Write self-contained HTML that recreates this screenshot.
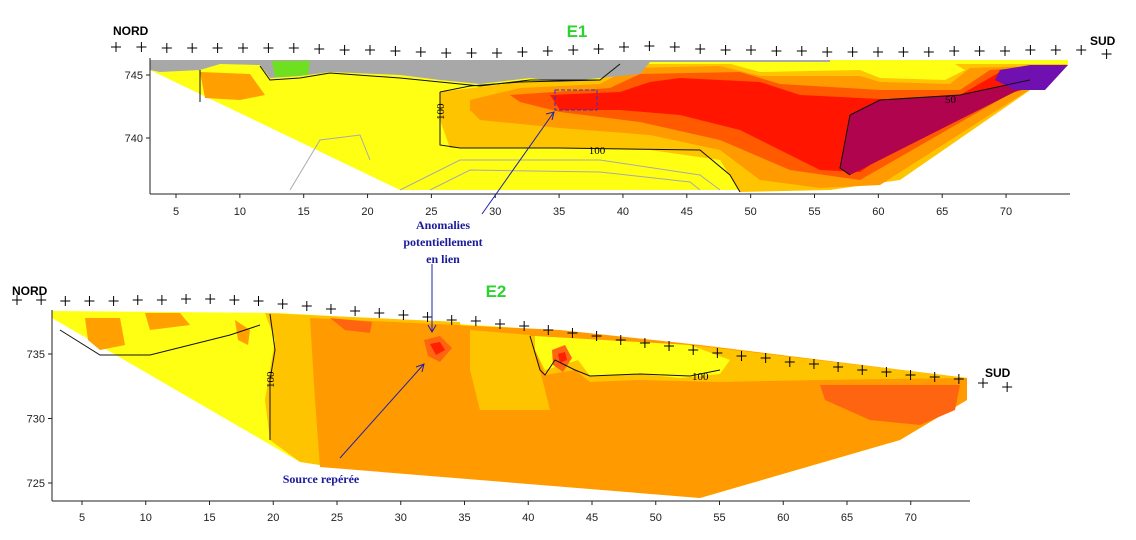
<!DOCTYPE html>
<html><head><meta charset="utf-8"><style>
html,body{margin:0;padding:0;background:#fff;}
svg{display:block;font-family:"Liberation Sans",sans-serif;}
.tk{font-family:"Liberation Sans",sans-serif;font-size:11px;fill:#222;}
.ann{font-family:"Liberation Serif",serif;font-weight:bold;font-size:12px;fill:#1a1a9a;}
</style></head><body>
<svg id="chart" width="1136" height="540" viewBox="0 0 1136 540" xmlns="http://www.w3.org/2000/svg">
<!-- TOP SECTION E1 -->
<g>
  <polygon fill="#ffff14" points="150,60 1068,60 1068,65 830,190 400,190 150,70"/>
  <polygon fill="#ffc400" points="440,92 520,82 600,80 620,64 1068,64 900,180 830,190 740,192 720,160 650,150 520,148 450,148 440,120"/>
  <polygon fill="#ffff14" points="720,61 950,61 965,70 945,80 880,78 860,70 760,72"/>
  <polygon fill="#ff9a00" points="470,100 520,88 600,84 630,68 720,66 760,76 860,76 880,82 950,84 970,68 1068,65 880,185 820,188 760,180 720,150 650,135 560,128 480,120 470,110"/>
  <polygon fill="#ff5a00" points="510,95 610,88 640,74 740,72 780,84 880,90 960,90 990,70 1060,65 860,180 790,170 720,140 640,122 560,112 520,102"/>
  <polygon fill="#ff1500" points="550,95 620,92 650,82 680,78 760,82 800,95 900,100 960,95 1000,72 1040,70 1040,85 950,110 860,172 820,170 780,150 740,130 680,115 620,110 560,110"/>
  <polygon fill="#b0044e" points="850,115 880,100 960,95 1030,80 1068,65 850,175 840,168"/>
  <polygon fill="#7010b0" points="1030,65 1068,65 1045,90 1015,90 995,80 1000,70"/>
  <polygon fill="#a8a8a8" points="150,60 830,60 830,62 650,62 640,74 600,78 560,82 530,78 480,84 440,80 400,75 330,72 300,76 270,78 260,65 220,64 200,70 160,72 150,70"/>
  <polygon fill="#6ee020" points="272,61 310,61 308,75 275,77"/>
  <polygon fill="#ffa000" points="200,72 250,74 265,95 240,100 205,98"/>
  <g fill="none" stroke="#aaa" stroke-width="1">
    <polyline points="290,190 320,140 360,135 370,160"/>
    <polyline points="400,190 460,160 600,160 700,175 720,190"/>
    <polyline points="430,190 470,170 600,172 690,182 700,190"/>
  </g>
  <g fill="none" stroke="#111" stroke-width="1">
    <polyline points="440,92 470,86 520,82 600,80 620,64"/>
    <polyline points="440,92 440,145 460,148 560,148 700,150 730,175 740,192"/>
    <polyline points="850,115 880,100 960,95 1030,80"/>
    <polyline points="850,115 840,168 850,175"/>
    <polyline points="200,70 200,102"/>
    <polyline points="260,66 270,80 300,78 330,73 400,78 440,82 480,86 530,80 600,80"/>
  </g>
  <text x="597" y="154" font-size="11" text-anchor="middle" font-family="Liberation Serif,serif">100</text>
  <text font-size="11" font-family="Liberation Serif,serif" transform="translate(444,120) rotate(-90)">100</text>
  <text x="945" y="103" font-size="11" font-family="Liberation Serif,serif">50</text>
  <rect x="555" y="90" width="42" height="20" fill="none" stroke="#3333cc" stroke-dasharray="4,2"/>
</g>
<!-- BOTTOM SECTION E2 -->
<g>
  <polygon fill="#ffff14" points="52,311 280,313 400,320 550,330 700,345 967,378 967,400 900,440 700,498 320,465 300,462 52,318"/>
  <polygon fill="#ffc400" points="265,313 460,322 470,460 320,465 300,462 270,440 265,400 275,340"/>
  <polygon fill="#ff9a00" points="310,318 560,330 700,345 967,378 967,400 900,440 700,498 320,467 315,400"/>
  <polygon fill="#ffc400" points="470,330 530,335 540,370 550,410 480,410 470,370"/>
  <polygon fill="#ffc400" points="530,336 700,346 967,378 820,380 720,382 640,380 590,382 575,370 545,375"/>
  <polygon fill="#ffff14" points="535,336 690,345 730,360 720,374 680,378 640,374 590,376 578,360 545,370 535,350"/>
  <polygon fill="#ff6510" points="820,385 960,385 955,410 920,425 870,420 825,400"/>
  <polygon fill="#ff6510" points="330,318 372,322 370,333 345,330"/>
  <polygon fill="#ffa000" points="85,318 120,318 125,345 100,350 88,340"/>
  <polygon fill="#ffa000" points="145,313 180,313 190,325 150,330"/>
  <polygon fill="#ffa000" points="235,320 250,330 248,345 238,340"/>
  <polygon fill="#ff6510" points="424,340 440,336 452,348 440,362 428,356"/>
  <polygon fill="#ff2000" points="430,344 440,342 445,350 436,355"/>
  <polygon fill="#ff6510" points="552,350 565,345 572,358 563,372 553,365"/>
  <polygon fill="#ff2000" points="558,354 565,352 567,360 560,363"/>
  <g fill="none" stroke="#111" stroke-width="1">
    <polyline points="270,314 275,350 270,380 270,440"/>
    <polyline points="60,330 100,355 150,355 190,345 230,335 260,325"/>
    <polyline points="530,336 540,370 545,375 555,360 575,370 590,376 640,374 690,376 720,370"/>
  </g>
  <text font-size="11" font-family="Liberation Serif,serif" transform="translate(274,388) rotate(-90)">100</text>
  <text x="692" y="380" font-size="11" font-family="Liberation Serif,serif">100</text>
</g>
<g id="axes"></g>
<g id="markers"></g>
<!-- Annotations -->
<g stroke="#2222aa" stroke-width="1" fill="none">
  <line x1="482" y1="214" x2="554" y2="112"/>
  <polyline points="546,114 554,112 552,120"/>
  <line x1="432" y1="264" x2="432" y2="332"/>
  <polyline points="428,325 432,332 436,325"/>
  <line x1="340" y1="458" x2="424" y2="364"/>
  <polyline points="416,367 424,364 422,372"/>
</g>
<text class="ann" x="443" y="229" text-anchor="middle">Anomalies</text>
<text class="ann" x="443" y="246" text-anchor="middle">potentiellement</text>
<text class="ann" x="443" y="263" text-anchor="middle">en lien</text>
<text class="ann" x="321" y="483" text-anchor="middle">Source repérée</text>
<text x="577" y="37" font-size="17" font-weight="bold" fill="#2ed22e" text-anchor="middle">E1</text>
<text x="496" y="297" font-size="17" font-weight="bold" fill="#2ed22e" text-anchor="middle">E2</text>
<text x="113" y="35" font-size="12" font-weight="bold">NORD</text>
<text x="1090" y="45" font-size="12" font-weight="bold">SUD</text>
<text x="12" y="295" font-size="12" font-weight="bold">NORD</text>
<text x="985" y="377" font-size="12" font-weight="bold">SUD</text>
</svg>
<script>
const xTicks=[5,10,15,20,25,30,35,40,45,50,55,60,65,70];
const yTicksTop=[745,740];
const yTicksBottom=[735,730,725];
const electrodesTopY=[47,47,48,48,48,48,48,48,49,50,50,51,52,53,53,53,52,51,50,49,47,46,47,49,50,50,51,51,52,52,52,52,52,51,51,51,50,50,50,54];
const electrodesBottomY=[300,300,301,301,301,300,300,299,299,300,301,304,306,309,311,313,315,317,320,321,324,326,330,333,336,340,343,346,350,353,356,358,362,364,367,370,372,375,377,379,383,387];
const NS='http://www.w3.org/2000/svg';
const axes=document.getElementById('axes');
const mk=document.getElementById('markers');
function xTop(d){return 176+(d-5)*12.77;}
function yTop(e){return 75+(745-e)*12.6;}
function xBot(d){return 82+(d-5)*12.75;}
function yBot(e){return 354+(735-e)*12.9;}
function line(g,x1,y1,x2,y2,name){const l=document.createElementNS(NS,'line');
l.setAttribute('x1',x1);l.setAttribute('y1',y1);l.setAttribute('x2',x2);l.setAttribute('y2',y2);l.setAttribute('stroke','#222');


g.appendChild(l);return l;}
function text(g,x,y,s,anchor,name,cls){const t=document.createElementNS(NS,'text');
t.setAttribute('x',x);t.setAttribute('y',y);t.setAttribute('text-anchor',anchor);t.setAttribute('class',cls||'tk');t.textContent=s;


g.appendChild(t);return t;}
// top axes
line(axes,150,194,1070,194,'e1-x-axis');
line(axes,150,58,150,194,'e1-y-axis');
xTicks.forEach(d=>{line(axes,xTop(d),194,xTop(d),198,'e1-x-tick');text(axes,xTop(d),215,String(d),'middle','e1-x-tick-label');});
yTicksTop.forEach(e=>{line(axes,146,yTop(e),150,yTop(e),'e1-y-tick');text(axes,143,yTop(e)+4,String(e),'end','e1-y-tick-label');});
// bottom axes
line(axes,52,501,970,501,'e2-x-axis');
line(axes,52,310,52,501,'e2-y-axis');
xTicks.forEach(d=>{line(axes,xBot(d),501,xBot(d),505,'e2-x-tick');text(axes,xBot(d),521,String(d),'middle','e2-x-tick-label');});
yTicksBottom.forEach(e=>{line(axes,48,yBot(e),52,yBot(e),'e2-y-tick');text(axes,45,yBot(e)+4,String(e),'end','e2-y-tick-label');});
// electrodes
function plus(x,y,name){const g=document.createElementNS(NS,'g');


const a=line(g,x-5,y,x+5,y,'plus-h');const b=line(g,x,y-5,x,y+5,'plus-v');a.setAttribute('stroke','#000');b.setAttribute('stroke','#000');mk.appendChild(g);}
electrodesTopY.forEach((y,i)=>plus(116+i*25.4,y,'e1-electrode'));
electrodesBottomY.forEach((y,i)=>plus(17+i*24.15,y,'e2-electrode'));
</script>
</body></html>
